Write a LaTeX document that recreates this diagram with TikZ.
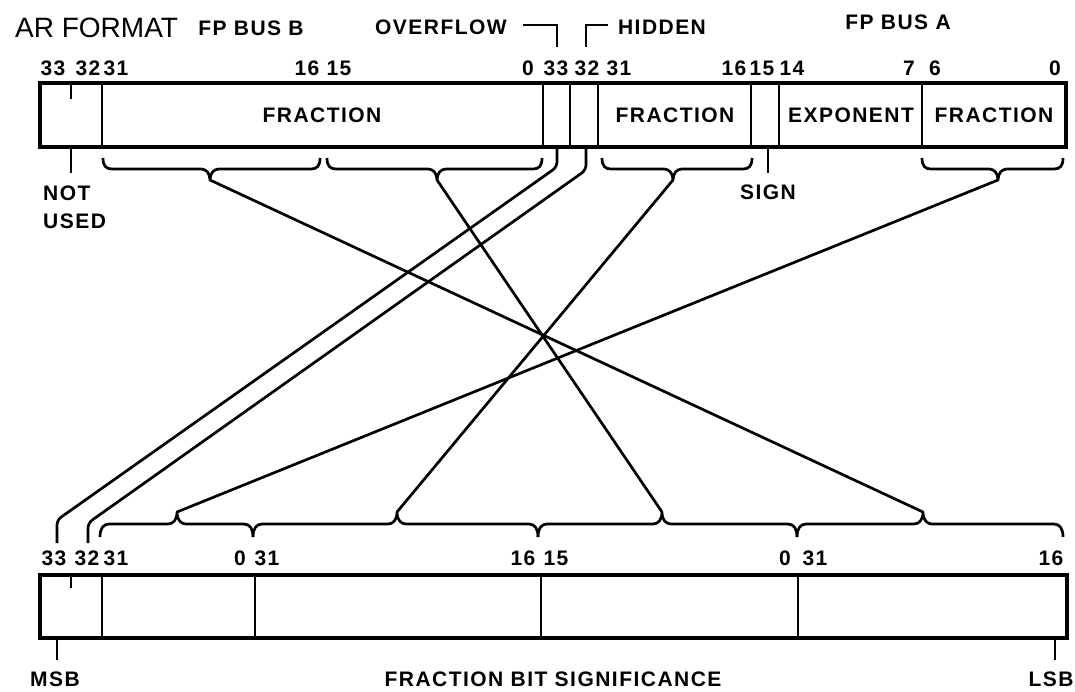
\documentclass[tikz,border=0pt]{standalone}
\usepackage{fontspec}
\setmainfont{Liberation Sans}
\newfontfamily\lblfont{Liberation Sans}[LetterSpace=7]
\newcommand\TopBrace[4]{%
  \draw[brc] (#1,158) .. controls (#1,166) and (#1+3,169) .. (#1+9,169) -- (#2-9,169)
    .. controls (#2-4,169) and (#2,173) .. (#2,180)
    .. controls (#2,173) and (#2+4,169) .. (#2+9,169) -- (#3-9,169)
    .. controls (#3-3,169) and (#3,166) .. (#3,158);
  \coordinate (#4) at (#2,180);}
\newcommand\BotBrace[4]{%
  \draw[brc] (#1,537) .. controls (#1,529) and (#1+3,524) .. (#1+9,524) -- (#2-9,524)
    .. controls (#2-4,524) and (#2,520) .. (#2,512)
    .. controls (#2,520) and (#2+4,524) .. (#2+9,524) -- (#3-9,524)
    .. controls (#3-3,524) and (#3,529) .. (#3,537);
  \coordinate (#4) at (#2,512);}
\begin{document}
\begin{tikzpicture}[x=1pt,y=-1pt,
  lbl/.style={font=\lblfont\bfseries\fontsize{21}{28}\selectfont, inner sep=0pt},
  ttl/.style={font=\fontsize{28}{32}\selectfont, inner sep=0pt},
  outline/.style={line width=4.2pt},
  divider/.style={line width=2.8pt},
  brc/.style={line width=2.7pt, line join=round},
  conn/.style={line width=2.7pt, rounded corners=5pt, line join=round}]
\useasboundingbox (0,0) rectangle (1075,691);
\fill[white] (0,0) rectangle (1075,691);

% ---------- titles ----------
\node[ttl, anchor=west] (title) at (15,28) {AR FORMAT};
\node[lbl] (busb) at (251,28) {FP BUS B};
\node[lbl] (busa) at (898,22) {FP BUS A};
\node[lbl] (ovf) at (441,27) {OVERFLOW};
\node[lbl] (hid) at (662,27) {HIDDEN};

% ---------- top register ----------
\draw[outline] (40,83) rectangle (1066,147);
\foreach \x in {102,543,570,598,751,779,922}
  \draw[divider] (\x,83) -- (\x,147);
\draw[divider] (71,83) -- (71,99);

\node[lbl] (fr1) at (322,115) {FRACTION};
\node[lbl] (fr2) at (675,115) {FRACTION};
\node[lbl] (exp) at (851,115) {EXPONENT};
\node[lbl] (fr3) at (994,115) {FRACTION};

\foreach \x/\t [count=\i] in {53/33,88/32,116/31,307/16,339/15,528/0,556/33,587/32,619/31,734/16,762/15,792/14,909/7,935/6,1055/0}
  \node[lbl] (tn\i) at (\x,68) {\t};

% overflow / hidden callouts
\coordinate (ovl) at (523,25);
\coordinate (ovc) at (557,25);
\coordinate (ovd) at (557,47);
\draw[divider] (ovl) -- (ovc) -- (ovd);
\coordinate (hil) at (608,25);
\coordinate (hic) at (586,25);
\coordinate (hid) at (586,47);
\draw[divider] (hil) -- (hic) -- (hid);

% not used / sign
\coordinate (nu1) at (71,147);
\coordinate (nu2) at (71,173);
\draw[divider] (nu1) -- (nu2);
\node[lbl, anchor=north west, align=left] (notused) at (43,186) {NOT\\USED};
\coordinate (sg1) at (768,147);
\coordinate (sg2) at (768,173);
\draw[divider] (sg1) -- (sg2);
\node[lbl] (sign) at (768,192) {SIGN};

% top braces
\TopBrace{103}{210}{320}{t1}
\TopBrace{327}{437}{542}{t2}
\TopBrace{602}{673}{752}{t3}
\TopBrace{922}{998}{1063}{t4}

% ---------- bottom register ----------
\draw[outline] (40,575) rectangle (1067,638);
\foreach \x in {102,255,541,798}
  \draw[divider] (\x,575) -- (\x,638);
\draw[divider] (71,575) -- (71,588);

\foreach \x/\t [count=\i] in {54/33,87/32,116/31,240/0,267/31,523/16,556/15,785/0,815/31,1051/16}
  \node[lbl] (bn\i) at (\x,558) {\t};

% bottom braces
\BotBrace{100}{177}{253}{ba}
\BotBrace{253}{397}{538}{bb}
\BotBrace{538}{662}{797}{bc}
\BotBrace{797}{923}{1063}{bd}

% MSB / LSB
\coordinate (ms1) at (57,638);
\coordinate (ms2) at (57,660);
\draw[divider] (ms1) -- (ms2);
\node[lbl] (msb) at (55,679) {MSB};
\coordinate (ls1) at (1055,638);
\coordinate (ls2) at (1055,660);
\draw[divider] (ls1) -- (ls2);
\node[lbl] (lsb) at (1051,679) {LSB};
\node[lbl] (fbs) at (553,679) {FRACTION BIT SIGNIFICANCE};

% ---------- connectors ----------
\draw[conn] (t1) -- (bd);
\draw[conn] (t2) -- (bc);
\draw[conn] (t3) -- (bb);
\draw[conn] (t4) -- (ba);

\coordinate (o1) at (557,147);
\coordinate (o2) at (557,167);
\coordinate (o3) at (57,520);
\coordinate (o4) at (57,543);
\draw[conn] (o1) -- (o2) -- (o3) -- (o4);
\coordinate (h1) at (586,147);
\coordinate (h2) at (586,170);
\coordinate (h3) at (88,523);
\coordinate (h4) at (88,543);
\draw[conn] (h1) -- (h2) -- (h3) -- (h4);
\end{tikzpicture}
\end{document}
